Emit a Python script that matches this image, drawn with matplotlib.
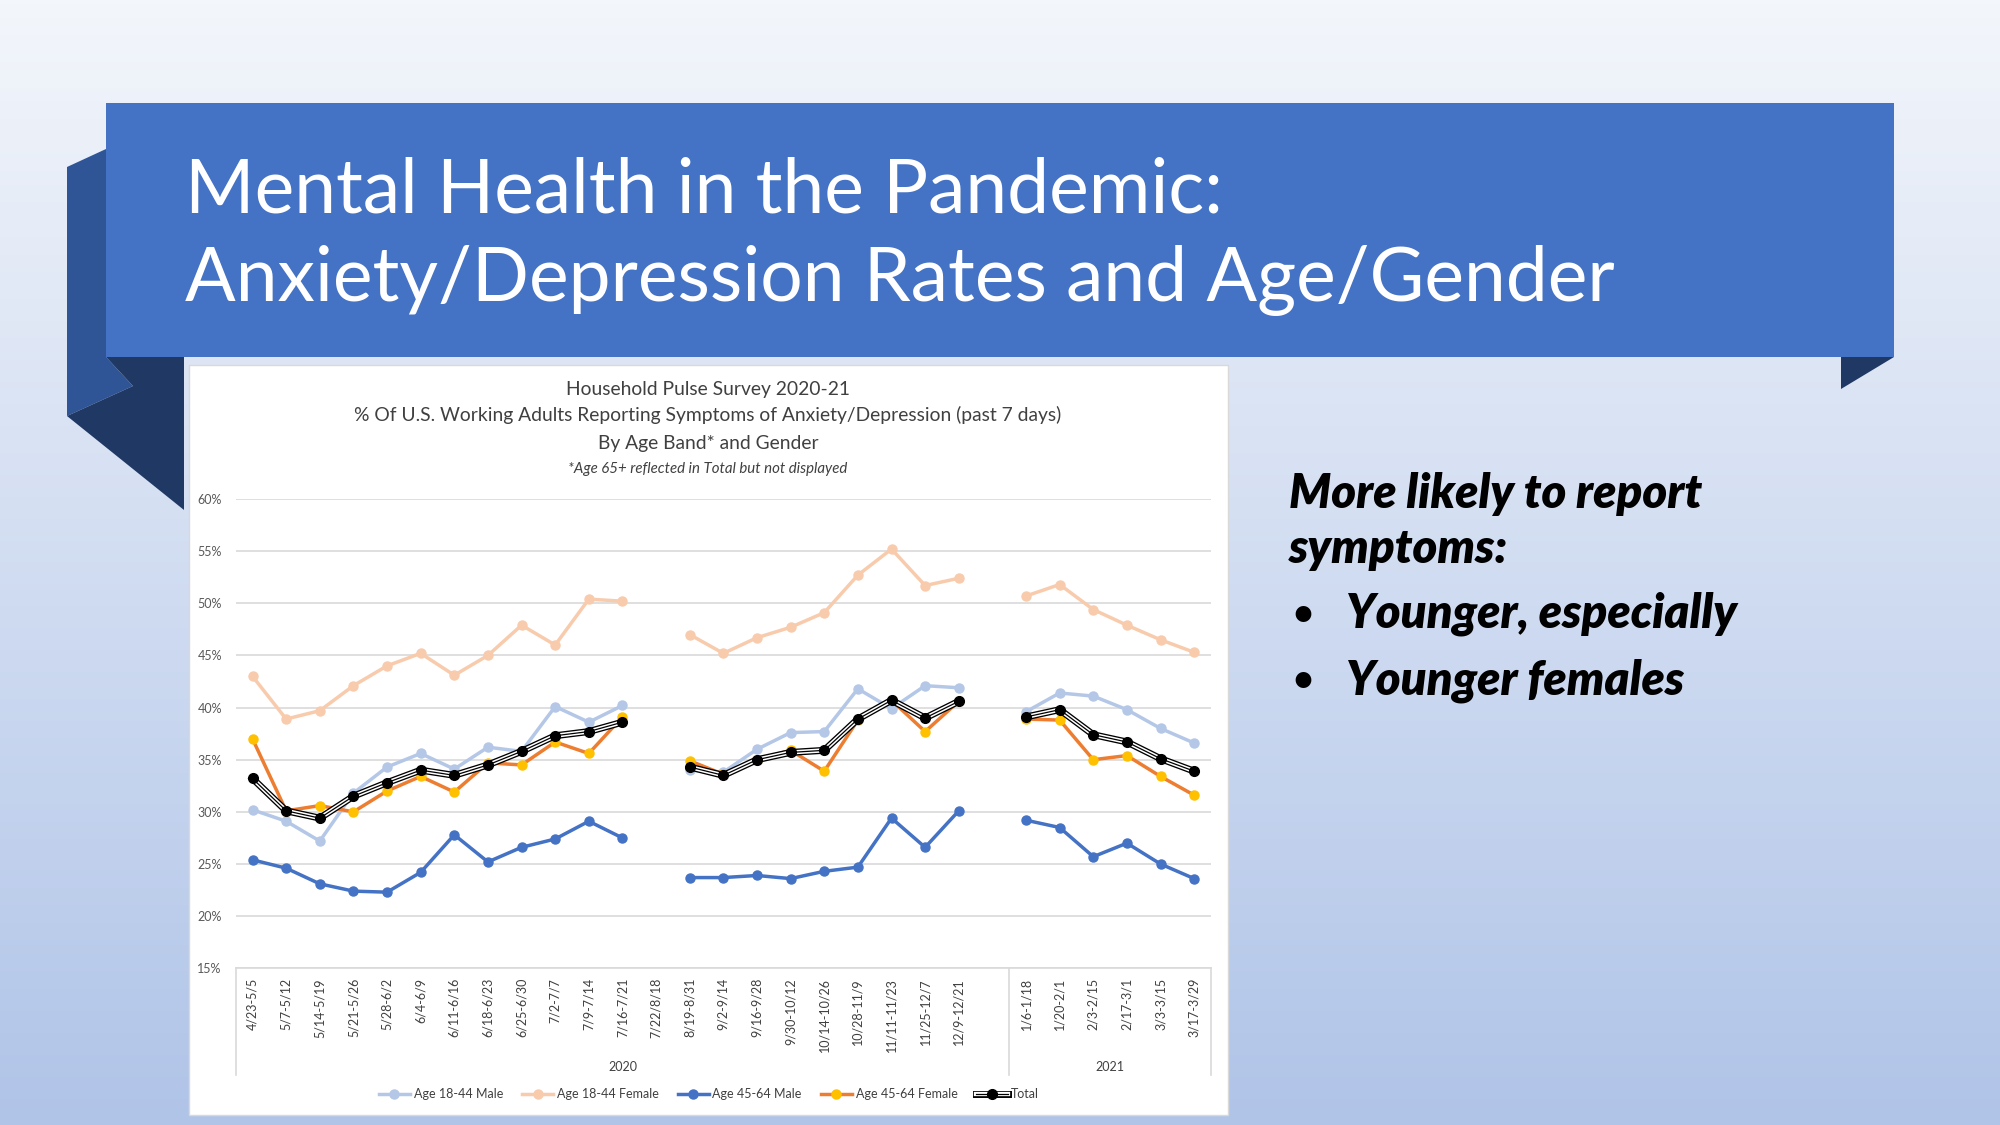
import numpy as np
import matplotlib.pyplot as plt
import matplotlib.patheffects as pe
from matplotlib.patches import Polygon, Rectangle
from matplotlib.legend_handler import HandlerTuple

plt.rcParams['font.family'] = ['Lato', 'DejaVu Sans']

W, H = 2000, 1125

# --- data (percent of working adults) ---
weeks = ["4/23-5/5", "5/7-5/12", "5/14-5/19", "5/21-5/26", "5/28-6/2", "6/4-6/9",
         "6/11-6/16", "6/18-6/23", "6/25-6/30", "7/2-7/7", "7/9-7/14", "7/16-7/21",
         "7/22/8/18", "8/19-8/31", "9/2-9/14", "9/16-9/28", "9/30-10/12", "10/14-10/26",
         "10/28-11/9", "11/11-11/23", "11/25-12/7", "12/9-12/21", "",
         "1/6-1/18", "1/20-2/1", "2/3-2/15", "2/17-3/1", "3/3-3/15", "3/17-3/29"]
years = ["2020", "2021"]
year_sizes = [23, 6]

nan = np.nan
male_18_44 = [30.2, 29.1, 27.2, 31.8, 34.3, 35.6, 34.1, 36.2, 35.8, 40.1, 38.6, 40.2, nan,
              34.0, 33.8, 36.0, 37.6, 37.7, 41.8, 39.9, 42.1, 41.9, nan,
              39.6, 41.4, 41.1, 39.8, 38.0, 36.6]
female_18_44 = [43.0, 38.9, 39.7, 42.1, 44.0, 45.2, 43.1, 45.0, 47.9, 46.0, 50.4, 50.2, nan,
                47.0, 45.2, 46.7, 47.7, 49.1, 52.7, 55.2, 51.7, 52.4, nan,
                50.7, 51.8, 49.4, 47.9, 46.5, 45.3]
male_45_64 = [25.4, 24.6, 23.1, 22.4, 22.3, 24.2, 27.8, 25.2, 26.6, 27.4, 29.1, 27.5, nan,
              23.7, 23.7, 23.9, 23.6, 24.3, 24.7, 29.4, 26.6, 30.1, nan,
              29.2, 28.5, 25.7, 27.0, 25.0, 23.6]
female_45_64 = [37.0, 30.1, 30.6, 30.0, 32.0, 33.4, 31.9, 34.7, 34.5, 36.7, 35.6, 39.1, nan,
                34.9, 33.6, 35.0, 35.9, 33.9, 38.8, 40.7, 37.7, 40.6, nan,
                38.9, 38.8, 35.0, 35.4, 33.4, 31.6]
total = [33.2, 30.1, 29.4, 31.5, 32.8, 34.0, 33.5, 34.5, 35.8, 37.3, 37.7, 38.6, nan,
         34.3, 33.5, 35.0, 35.7, 35.9, 38.9, 40.7, 39.0, 40.6, nan,
         39.1, 39.8, 37.4, 36.7, 35.1, 33.9]

fig = plt.figure(figsize=(20, 11.25), dpi=100)

# --- slide background (pixel coordinates, y down) ---
bg = fig.add_axes([0, 0, 1, 1])
grad = np.linspace(0, 1, 256)[:, None, None]
top_c = np.array([243, 246, 251]) / 255
bot_c = np.array([176, 196, 232]) / 255
bg.imshow(top_c + (bot_c - top_c) * grad, extent=(0, W, H, 0), aspect='auto', zorder=0)
bg.set_xlim(0, W)
bg.set_ylim(H, 0)
bg.axis('off')

bg.add_patch(Polygon([(67, 167), (106, 149), (106, 357), (133, 386), (67, 416)],
                     closed=True, fc='#2F5597', ec='none', zorder=1))
bg.add_patch(Polygon([(106, 357), (184, 357), (184, 510), (67, 416), (133, 386)],
                     closed=True, fc='#203864', ec='none', zorder=1))
bg.add_patch(Polygon([(1841, 357), (1894, 357), (1841, 389)],
                     closed=True, fc='#203864', ec='none', zorder=1))
bg.add_patch(Rectangle((106, 103), 1894 - 106, 357 - 103, fc='#4472C4', ec='none', zorder=2))
bg.add_patch(Rectangle((189, 365), 1228 - 189, 1115 - 365, fc='white', ec='#d9d9d9',
                       lw=1, zorder=2))

bg.text(185, 191, "Mental Health in the Pandemic:", color='white', fontsize=54,
        va='center', ha='left', zorder=3)
bg.text(185, 280, "Anxiety/Depression Rates and Age/Gender", color='white', fontsize=54,
        va='center', ha='left', zorder=3)

# chart titles
bg.text(708, 390, "Household Pulse Survey 2020-21", color='#404040', fontsize=13.9,
        ha='center', va='center', zorder=3)
bg.text(708, 415, "% Of U.S. Working Adults Reporting Symptoms of Anxiety/Depression (past 7 days)",
        color='#404040', fontsize=13.9, ha='center', va='center', zorder=3)
bg.text(708, 443, "By Age Band* and Gender", color='#404040', fontsize=13.9,
        ha='center', va='center', zorder=3)
bg.text(708, 469, "*Age 65+ reflected in Total but not displayed", color='#404040',
        fontsize=10.8, style='italic', ha='center', va='center', zorder=3)

# right side text
rt = dict(fontsize=34, fontweight='heavy', style='italic', color='black', va='center', zorder=3)
bg.text(1289, 494, "More likely to report", ha='left', **rt)
bg.text(1289, 549, "symptoms:", ha='left', **rt)
bg.text(1292, 614, "\u2022", ha='left', fontsize=26, fontweight='bold', va='center', zorder=3)
bg.text(1346, 614, "Younger, especially", ha='left', **rt)
bg.text(1292, 681, "\u2022", ha='left', fontsize=26, fontweight='bold', va='center', zorder=3)
bg.text(1346, 681, "Younger females", ha='left', **rt)

# --- the chart ---
L, R, T, B = 235.7, 1211, 499, 968.3
ax = fig.add_axes([L / W, 1 - B / H, (R - L) / W, (B - T) / H])
ax.set_facecolor('none')
x = np.arange(len(weeks))

lw, ms = 2.5, 6.5
l1, = ax.plot(x, male_18_44, color='#B4C7E7', lw=lw, marker='o', ms=ms, label='Age 18-44 Male')
l2, = ax.plot(x, female_18_44, color='#F8CBAD', lw=lw, marker='o', ms=ms, label='Age 18-44 Female')
l3, = ax.plot(x, male_45_64, color='#4472C4', lw=lw, marker='o', ms=ms, label='Age 45-64 Male')
l4, = ax.plot(x, female_45_64, color='#ED7D31', lw=lw, marker='o', ms=ms,
              mfc='#FFC000', mec='#FFC000', label='Age 45-64 Female')
l5, = ax.plot(x, total, color='black', lw=0.9,
              path_effects=[pe.Stroke(linewidth=5.0, foreground='black'),
                            pe.Stroke(linewidth=3.1, foreground='white'), pe.Normal()])
m5, = ax.plot(x, total, ls='none', marker='o', ms=7, color='black')

ax.set_xlim(-0.5, len(weeks) - 0.5)
ax.set_ylim(15, 60)
ax.set_yticks(np.arange(15, 61, 5))
ax.set_yticklabels([f"{v}%" for v in range(15, 61, 5)])
ax.grid(axis='y', color='#d9d9d9', lw=1.2)
ax.set_axisbelow(True)
for s in ['top', 'left', 'right']:
    ax.spines[s].set_visible(False)
ax.spines['bottom'].set_color('#d9d9d9')
ax.spines['bottom'].set_linewidth(1.2)
ax.tick_params(axis='y', length=0, pad=10, labelsize=9, labelcolor='#595959')
ax.set_xticks(x)
ax.set_xticklabels(weeks, rotation=90, va='top', ha='center')
ax.tick_params(axis='x', length=0, pad=7, labelsize=9, labelcolor='#404040')

# two-level category axis
bounds = np.concatenate([[0], np.cumsum(year_sizes)]) - 0.5
for b in bounds:
    ax.plot([b, b], [0, -0.228], transform=ax.get_xaxis_transform(), color='#d9d9d9',
            lw=1.2, clip_on=False)
for i, yr in enumerate(years):
    ax.text((bounds[i] + bounds[i + 1]) / 2, -0.21, yr, transform=ax.get_xaxis_transform(),
            ha='center', va='center', fontsize=9, color='#404040')

ax.legend([l1, l2, l3, l4, (l5, m5)],
          ['Age 18-44 Male', 'Age 18-44 Female', 'Age 45-64 Male', 'Age 45-64 Female', 'Total'],
          handler_map={tuple: HandlerTuple(ndivide=1)},
          loc='center', bbox_to_anchor=(709 / W, 1 - 1094 / H), bbox_transform=fig.transFigure,
          ncol=5, frameon=False, fontsize=9, handlelength=2.5, handletextpad=0.3,
          columnspacing=1.5, labelcolor='#404040')

fig.savefig('out.png', dpi=100)
